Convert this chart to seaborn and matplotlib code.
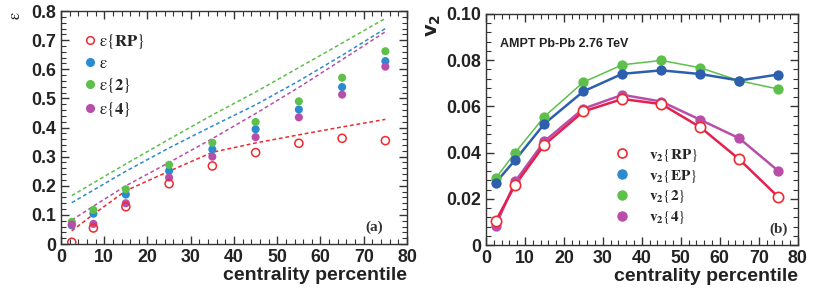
import matplotlib
matplotlib.use("Agg")
import matplotlib.pyplot as plt
from matplotlib.lines import Line2D
from matplotlib.ticker import MultipleLocator
import numpy as np
import pandas as pd
import seaborn as sns

# centrality bins (bin centres)
centrality = [2.5, 7.5, 15, 25, 35, 45, 55, 65, 75]

# panel (a): eccentricities
ecc_rp = [0.006, 0.055, 0.128, 0.207, 0.268, 0.314, 0.346, 0.363, 0.355]
ecc_pp = [0.064, 0.104, 0.170, 0.251, 0.325, 0.394, 0.462, 0.539, 0.628]
ecc_2 = [0.076, 0.117, 0.188, 0.272, 0.348, 0.419, 0.490, 0.571, 0.662]
ecc_4 = [0.067, 0.069, 0.140, 0.228, 0.300, 0.367, 0.435, 0.513, 0.609]

# panel (a): dashed curves (v2 scaled)
fit_rp = [0.045, 0.102, 0.183, 0.250, 0.315, 0.347, 0.375, 0.402, 0.428]
fit_pp = [0.142, 0.185, 0.250, 0.330, 0.405, 0.478, 0.560, 0.648, 0.740]
fit_2 = [0.166, 0.210, 0.275, 0.360, 0.443, 0.522, 0.606, 0.690, 0.775]
fit_4 = [0.082, 0.130, 0.200, 0.280, 0.362, 0.448, 0.538, 0.633, 0.729]

# panel (b): v2
v2_rp = [0.0104, 0.0260, 0.0434, 0.0578, 0.0632, 0.0610, 0.0510, 0.0371, 0.0208]
v2_ep = [0.0270, 0.0368, 0.0525, 0.0665, 0.0741, 0.0756, 0.0740, 0.0712, 0.0738]
v2_2 = [0.0289, 0.0400, 0.0556, 0.0705, 0.0780, 0.0799, 0.0767, 0.0711, 0.0675]
v2_4 = [0.0084, 0.0275, 0.0449, 0.0590, 0.0650, 0.0621, 0.0542, 0.0462, 0.0321]

# axis ticks / labels
x_ticks = [0, 10, 20, 30, 40, 50, 60, 70, 80]
eps_ticks = [0, 0.1, 0.2, 0.3, 0.4, 0.5, 0.6, 0.7, 0.8]
eps_labels = ["0", "0.1", "0.2", "0.3", "0.4", "0.5", "0.6", "0.7", "0.8"]
v2_ticks = [0, 0.02, 0.04, 0.06, 0.08, 0.10]
v2_labels = ["0", "0.02", "0.04", "0.06", "0.08", "0.10"]

RED = "#ee2a2e"
CRIMSON = "#e5204f"
BLUE = "#2b8ad0"
DBLUE = "#2d5fae"
GREEN = "#5cc04a"
MAGENTA = "#b84ea8"
TXT = "#222222"

sns.set_style("ticks")
plt.rcParams["font.family"] = "Liberation Sans"
plt.rcParams["mathtext.fontset"] = "stix"

fig = plt.figure(figsize=(8.14, 2.91), dpi=100)
ax1 = fig.add_axes([0.0749, 0.1615, 0.4251, 0.8005])
ax2 = fig.add_axes([0.597, 0.158, 0.383, 0.794])

# ---- panel (a)
fits = pd.DataFrame({
    "c": centrality * 4,
    "val": fit_rp + fit_pp + fit_2 + fit_4,
    "kind": ["rp"] * 9 + ["pp"] * 9 + ["2"] * 9 + ["4"] * 9,
})
pal_a = {"rp": RED, "pp": BLUE, "2": GREEN, "4": MAGENTA}
sns.lineplot(data=fits, x="c", y="val", hue="kind", palette=pal_a, ax=ax1,
             legend=False, lw=1.1, dashes=False, linestyle=(0, (2.5, 1.8)))

pts = pd.DataFrame({
    "c": centrality * 3,
    "val": ecc_pp + ecc_2 + ecc_4,
    "kind": ["pp"] * 9 + ["2"] * 9 + ["4"] * 9,
})
sns.scatterplot(data=pts, x="c", y="val", hue="kind", palette=pal_a, ax=ax1,
                legend=False, s=34, linewidth=0, zorder=3)
sns.scatterplot(x=centrality, y=ecc_rp, ax=ax1, s=34, facecolor="none",
                edgecolor=RED, linewidth=1.1, zorder=3)

ax1.set_xlim(0, 80)
ax1.set_ylim(0, 0.8)
ax1.set_xticks(x_ticks, [str(t) for t in x_ticks], fontweight="bold", fontsize=12.8, color=TXT)
ax1.set_yticks(eps_ticks, eps_labels, fontweight="bold", fontsize=12.8, color=TXT)
ax1.xaxis.set_minor_locator(MultipleLocator(2))
ax1.yaxis.set_minor_locator(MultipleLocator(0.02))
ax1.set_ylabel(r"$\mathrm{\varepsilon}$", fontsize=12, loc="top", labelpad=6, color=TXT)
ax1.text(0.93, 0.07, "(a)", transform=ax1.transAxes, ha="right", va="center",
         family="Liberation Serif", fontweight="bold", fontsize=11, color="#333333")

h_a = [
    Line2D([], [], ls="none", marker="o", ms=5.5, mfc="none", mec=RED, mew=1.1),
    Line2D([], [], ls="none", marker="o", ms=5.5, mfc=BLUE, mec=BLUE),
    Line2D([], [], ls="none", marker="o", ms=5.5, mfc=GREEN, mec=GREEN),
    Line2D([], [], ls="none", marker="o", ms=5.5, mfc=MAGENTA, mec=MAGENTA),
]
l_a = [r"$\mathrm{\varepsilon}\{\mathbf{RP}\}$", r"$\mathrm{\varepsilon}$",
       r"$\mathrm{\varepsilon}\{\mathbf{2}\}$", r"$\mathrm{\varepsilon}\{\mathbf{4}\}$"]
ax1.legend(h_a, l_a, loc="upper left", bbox_to_anchor=(0.03, 0.955), frameon=False,
           fontsize=12, handletextpad=0.05, handlelength=1.0, labelspacing=0.3,
           borderaxespad=0.2)

# ---- panel (b)
v2 = pd.DataFrame({
    "c": centrality * 4,
    "val": v2_rp + v2_ep + v2_2 + v2_4,
    "kind": ["rp"] * 9 + ["ep"] * 9 + ["2"] * 9 + ["4"] * 9,
})
pal_b = {"rp": CRIMSON, "ep": DBLUE, "2": GREEN, "4": MAGENTA}
widths = {"rp": 1.8, "ep": 1.8, "2": 1.1, "4": 1.8}
for kind in ["2", "ep", "4", "rp"]:
    sub = v2[v2["kind"] == kind]
    sns.lineplot(data=sub, x="c", y="val", color=pal_b[kind], lw=widths[kind], ax=ax2,
                 legend=False)
    if kind == "rp":
        sns.scatterplot(data=sub, x="c", y="val", ax=ax2, s=55, facecolor="white",
                        edgecolor=RED, linewidth=1.2, zorder=4)
    else:
        sns.scatterplot(data=sub, x="c", y="val", ax=ax2, s=55, color=pal_b[kind],
                        linewidth=0, zorder=4)

ax2.set_xlim(0, 80)
ax2.set_ylim(0, 0.10)
ax2.set_xticks(x_ticks, [str(t) for t in x_ticks], fontweight="bold", fontsize=12.8, color=TXT)
ax2.set_yticks(v2_ticks, v2_labels, fontweight="bold", fontsize=12.8, color=TXT)
ax2.xaxis.set_minor_locator(MultipleLocator(2))
ax2.yaxis.set_minor_locator(MultipleLocator(0.004))
ax2.set_ylabel(r"$\mathbf{v}_{\mathbf{2}}$", fontsize=14, loc="top", labelpad=2,
               math_fontfamily="dejavusans", color=TXT)
ax2.text(0.045, 0.87, "AMPT Pb-Pb 2.76 TeV", transform=ax2.transAxes, ha="left",
         va="center", fontweight="bold", fontsize=9, color=TXT)
ax2.text(0.968, 0.07, "(b)", transform=ax2.transAxes, ha="right", va="center",
         family="Liberation Serif", fontweight="bold", fontsize=11, color="#333333")

h_b = [
    Line2D([], [], ls="none", marker="o", ms=6.5, mfc="none", mec=RED, mew=1.2),
    Line2D([], [], ls="none", marker="o", ms=6.5, mfc=BLUE, mec=BLUE),
    Line2D([], [], ls="none", marker="o", ms=6.5, mfc=GREEN, mec=GREEN),
    Line2D([], [], ls="none", marker="o", ms=6.5, mfc=MAGENTA, mec=MAGENTA),
]
l_b = [r"$\mathbf{v}_{\mathbf{2}}\{\mathbf{RP}\}$", r"$\mathbf{v}_{\mathbf{2}}\{\mathbf{EP}\}$",
       r"$\mathbf{v}_{\mathbf{2}}\{\mathbf{2}\}$", r"$\mathbf{v}_{\mathbf{2}}\{\mathbf{4}\}$"]
ax2.legend(h_b, l_b, loc="upper left", bbox_to_anchor=(0.382, 0.465), frameon=False,
           fontsize=11, handletextpad=1.25, handlelength=1.0, labelspacing=0.25,
           borderaxespad=0.2)

for ax in (ax1, ax2):
    ax.set_xlabel("centrality percentile", fontsize=14, fontweight="bold", loc="right",
                  labelpad=1, color=TXT)
    ax.tick_params(which="both", direction="in", top=True, right=True, colors="#333333",
                   labelcolor=TXT)
    ax.tick_params(which="major", length=6, width=1)
    ax.tick_params(which="minor", length=3.5, width=0.8)
    for sp in ax.spines.values():
        sp.set_linewidth(1.0)
        sp.set_color("#333333")

fig.savefig("out.png", dpi=100)
